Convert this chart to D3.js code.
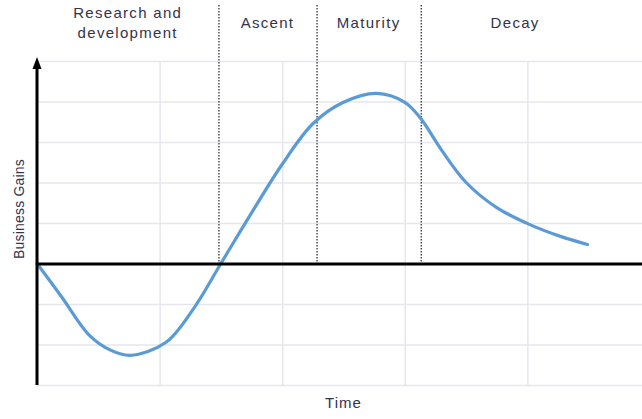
<!doctype html>
<html lang="en">

<head>
    <meta charset="utf-8">
    <title>Business life cycle</title>
    <script src="https://cdn.jsdelivr.net/npm/d3@7"></script>
    <style>
        body {
            margin: 0;
            background: #ffffff;
        }

        svg {
            display: block;
            font-family: "Liberation Sans", Arial, sans-serif;
        }

        .label {
            fill: #33334a;
        }
    </style>
</head>

<body>
    <svg></svg>
    <script>
        var width = 642;
        var height = 419;

        // curve: time in grid columns, gains in grid rows
        var times = [0, 0.20, 0.43, 0.60, 0.76, 1.05, 1.28, 1.50, 1.75, 2.00, 2.25, 2.50, 2.77,
            3.00, 3.13, 3.30, 3.50, 3.75, 4.02, 4.27, 4.49];
        var gains = [0, -0.82, -1.78, -2.14, -2.27, -1.95, -1.10, 0, 1.25, 2.45, 3.45, 3.98, 4.20,
            3.98, 3.58, 2.80, 2.00, 1.38, 0.96, 0.67, 0.47];

        // phase boundaries (time) and their names
        var phaseBounds = [0, 1.48, 2.28, 3.13, 4.67];
        var phaseNames = [["Research and", "development"], ["Ascent"], ["Maturity"], ["Decay"]];

        var xTicks = [0, 1, 2, 3, 4, 5];
        var yTicks = [-3, -2, -1, 0, 1, 2, 3, 4, 5];

        var dataset = times.map(function (t, i) { return { t: t, g: gains[i] }; });

        var svg = d3.select('svg').attr('width', width).attr('height', height);

        var xScale = d3.scaleLinear().domain([0, 5]).range([37, 650]);
        var yScale = d3.scaleLinear().domain([-3, 5]).range([385, 61]);

        // grid
        svg.append('g').selectAll('line')
            .data(yTicks)
            .enter()
            .append('line')
            .attr('x1', xScale(0))
            .attr('x2', xScale(5))
            .attr('y1', function (d) { return yScale(d) + 0.5; })
            .attr('y2', function (d) { return yScale(d) + 0.5; })
            .attr('stroke', '#e6e6ee')
            .attr('stroke-width', 1.5);

        svg.append('g').selectAll('line')
            .data(xTicks)
            .enter()
            .append('line')
            .attr('x1', function (d) { return xScale(d) + 0.5; })
            .attr('x2', function (d) { return xScale(d) + 0.5; })
            .attr('y1', yScale(5))
            .attr('y2', yScale(-3))
            .attr('stroke', '#e6e6ee')
            .attr('stroke-width', 1.5);

        // phase dividers
        svg.append('g').selectAll('line')
            .data(phaseBounds.slice(1, 4))
            .enter()
            .append('line')
            .attr('x1', function (d) { return xScale(d) + 0.5; })
            .attr('x2', function (d) { return xScale(d) + 0.5; })
            .attr('y1', 5)
            .attr('y2', yScale(0))
            .attr('stroke', '#33334a')
            .attr('stroke-width', 1.3)
            .attr('stroke-dasharray', '1.5,1.5');

        // phase labels
        var labels = svg.append('g').selectAll('text')
            .data(phaseNames)
            .enter()
            .append('text')
            .attr('class', 'label')
            .attr('text-anchor', 'middle')
            .attr('font-size', 15)
            .attr('letter-spacing', 1.3)
            .attr('x', function (d, i) { return xScale((phaseBounds[i] + phaseBounds[i + 1]) / 2); })
            .attr('y', function (d) { return d.length > 1 ? 18 : 28; });

        labels.selectAll('tspan')
            .data(function (d) { return d; })
            .enter()
            .append('tspan')
            .attr('x', function () { return d3.select(this.parentNode).attr('x'); })
            .attr('dy', function (d, i) { return i === 0 ? 0 : 20; })
            .text(function (d) { return d; });

        // the curve
        var line = d3.line()
            .x(function (d) { return xScale(d.t); })
            .y(function (d) { return yScale(d.g); })
            .curve(d3.curveCatmullRom.alpha(0.5));

        svg.append('path')
            .datum(dataset)
            .attr('d', line)
            .attr('fill', 'none')
            .attr('stroke', '#5b9bd5')
            .attr('stroke-width', 3.2)
            .attr('stroke-linecap', 'round');

        // axes
        svg.append('line')
            .attr('x1', xScale(0))
            .attr('x2', width)
            .attr('y1', yScale(0) + 0.5)
            .attr('y2', yScale(0) + 0.5)
            .attr('stroke', '#000')
            .attr('stroke-width', 3);

        svg.append('line')
            .attr('x1', xScale(0))
            .attr('x2', xScale(0))
            .attr('y1', yScale(-3))
            .attr('y2', 66)
            .attr('stroke', '#000')
            .attr('stroke-width', 3);

        svg.append('path')
            .attr('d', 'M' + xScale(0) + ',57 L' + (xScale(0) - 4.5) + ',69 L' + (xScale(0) + 4.5) + ',69 Z')
            .attr('fill', '#000');

        // axis titles
        svg.append('text')
            .attr('class', 'label')
            .attr('text-anchor', 'middle')
            .attr('font-size', 15)
            .attr('letter-spacing', 1)
            .attr('x', (xScale(0) + xScale(5)) / 2)
            .attr('y', 408)
            .text('Time');

        svg.append('text')
            .attr('class', 'label')
            .attr('text-anchor', 'middle')
            .attr('font-size', 14)
            .attr('letter-spacing', 0.2)
            .attr('transform', 'translate(24,209) rotate(-90)')
            .text('Business Gains');
    </script>

</body>

</html>
